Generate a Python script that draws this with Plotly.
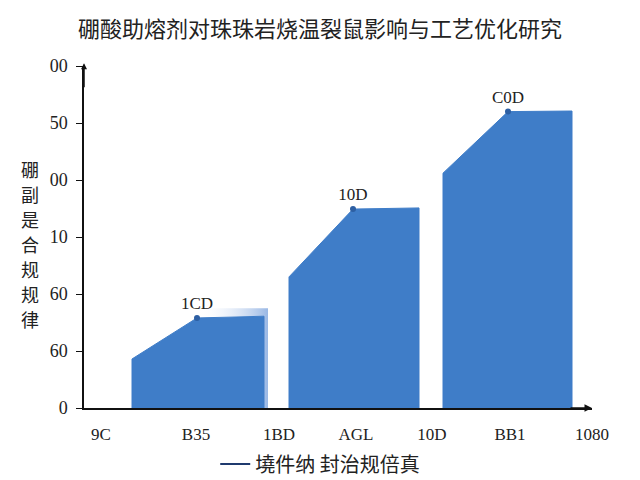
import plotly.graph_objects as go

# ---- data ----
title = "硼酸助熔剂对珠珠岩烧温裂鼠影响与工艺优化研究"
y_title_chars = ["硼", "副", "是", "合", "规", "规", "律"]
legend_name = "墝件纳 封治规倍真"

x_tick_vals = [1.7, 11.2, 19.5, 27.2, 34.8, 42.6, 50.8]
x_tick_text = ["9C", "B35", "1BD", "AGL", "10D", "BB1", "1080"]
y_tick_vals = [0, 1, 2, 3, 4, 5, 6]
y_tick_text = ["0", "60", "60", "10", "00", "50", "00"]

# each block: left x, right x, peak x, left-edge height, peak height, right height
block_left = [4.8, 20.5, 35.9]
block_right = [18.0, 33.5, 48.8]
block_peak_x = [11.3, 26.9, 42.4]
block_left_h = [0.86, 2.30, 4.12]
block_peak_h = [1.58, 3.49, 5.20]
block_right_h = [1.61, 3.51, 5.21]
peak_labels = ["1CD", "10D", "C0D"]

BLUE = "#3f7dc8"
SERIF = "Liberation Serif, DejaVu Serif, serif"
CJK = "Noto Sans CJK SC, sans-serif"

# page body adds an 8px offset; figure sized so it ends at the window edge
W, H = 632, 472
L, T = 76, 58
PW, PH = 508, 342

fig = go.Figure()

# soft highlight behind the first block
fig.add_trace(go.Scatter(
    x=[block_peak_x[0], block_peak_x[0], block_right[0] + 0.4, block_right[0] + 0.4, block_right[0], block_right[0]],
    y=[block_right_h[0], block_right_h[0] + 0.14, block_right_h[0] + 0.14, 0, 0, block_right_h[0]],
    fill="toself", mode="lines", line=dict(width=0),
    fillgradient=dict(type="horizontal",
                      colorscale=[[0, "rgba(255,255,255,0)"], [1, "rgba(120,160,220,0.75)"]]),
    hoverinfo="skip", showlegend=False))

for i in range(3):
    fig.add_trace(go.Scatter(
        x=[block_left[i], block_left[i], block_peak_x[i], block_right[i], block_right[i]],
        y=[0, block_left_h[i], block_peak_h[i], block_right_h[i], 0],
        fill="toself", fillcolor=BLUE, mode="lines",
        line=dict(width=1, color=BLUE), hoverinfo="skip", showlegend=False))

fig.add_trace(go.Scatter(
    x=block_peak_x, y=block_peak_h, mode="markers+text",
    marker=dict(size=6, color="#2d5fa3"),
    text=peak_labels, textposition="top center",
    textfont=dict(family=SERIF, size=17, color="#222"),
    showlegend=False, hoverinfo="skip"))

# legend entry
fig.add_trace(go.Scatter(x=[None], y=[None], mode="lines",
                         line=dict(color="#1f3a6e", width=2), name=legend_name))

fig.update_layout(
    width=W, height=H,
    margin=dict(l=L, r=W - L - PW, t=T, b=H - T - PH, autoexpand=False),
    paper_bgcolor="white", plot_bgcolor="white",
    title=dict(text=title, x=(320 - 8) / W, xanchor="center", y=1 - 21 / H, yanchor="middle",
               font=dict(family=CJK, size=22, color="#222")),
    xaxis=dict(range=[0, 50.8], tickvals=x_tick_vals, ticktext=x_tick_text,
               showgrid=False, zeroline=False, showline=True, linecolor="#111", linewidth=1.5,
               ticks="", tickfont=dict(family=SERIF, size=17, color="#222"), ticklabelstandoff=10),
    yaxis=dict(range=[0, 6], tickvals=y_tick_vals, ticktext=y_tick_text,
               showgrid=False, zeroline=False, showline=True, linecolor="#111", linewidth=1.5,
               ticks="outside", ticklen=6, tickcolor="#111", ticklabelstandoff=5,
               tickfont=dict(family=SERIF, size=18, color="#222")),
    legend=dict(orientation="h", x=0.465, xanchor="center", y=-0.164, yanchor="middle",
                font=dict(family=CJK, size=20, color="#222"), bgcolor="rgba(0,0,0,0)"),
)

# axis arrows
fig.add_annotation(x=50.8, y=0, ax=48.5, ay=0, xref="x", yref="y", axref="x", ayref="y",
                   showarrow=True, arrowhead=2, arrowsize=1, arrowwidth=1.5, arrowcolor="#111", text="")
fig.add_annotation(x=0, y=6.05, ax=0, ay=5.6, xref="x", yref="y", axref="x", ayref="y",
                   showarrow=True, arrowhead=2, arrowsize=0.8, arrowwidth=1.5, arrowcolor="#111", text="")

# vertical y-axis title, one character per annotation
n = len(y_title_chars)
top_c, bot_c = 169, 319
for k, ch in enumerate(y_title_chars):
    sy = top_c + (bot_c - top_c) * k / (n - 1)
    fig.add_annotation(text=ch, xref="paper", yref="paper",
                       x=(30 - 84) / PW, y=(408 - sy) / PH, xanchor="center", yanchor="middle",
                       showarrow=False, font=dict(family=CJK, size=18, color="#222"))

fig.write_html("out.html")
